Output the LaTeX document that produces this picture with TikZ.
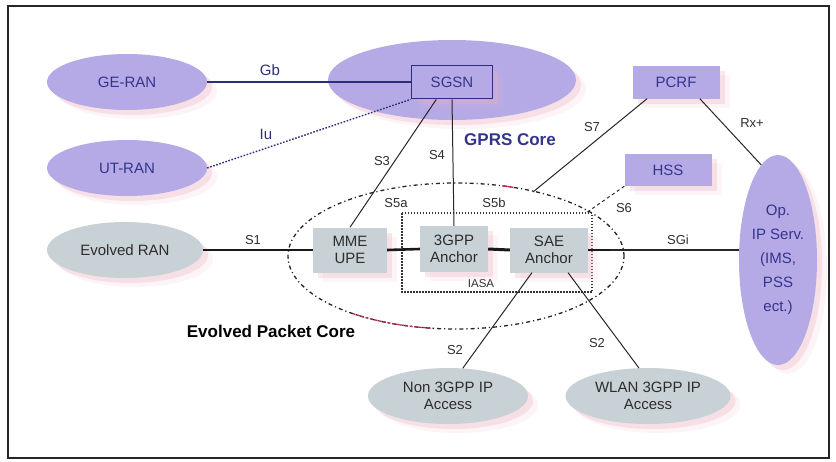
\documentclass[tikz,border=0pt]{standalone}
\usepackage{fontspec}
\setmainfont{Liberation Sans}
\usetikzlibrary{shapes.geometric}

\definecolor{lav}{RGB}{181,170,230}
\definecolor{grayn}{RGB}{200,209,213}
\definecolor{navy}{RGB}{45,45,125}
\definecolor{txtblue}{RGB}{52,52,140}
\definecolor{txtgray}{RGB}{45,45,45}
\definecolor{epcred}{RGB}{190,45,70}
\definecolor{shadowpink}{RGB}{232,178,192}

\newcommand\dgNodeFont{\fontsize{15}{17}\selectfont}
\newcommand\dgLabelFont{\fontsize{13}{15}\selectfont}
\newcommand\dgTitleFont{\fontsize{17}{20}\selectfont\bfseries}

\begin{document}
\begin{tikzpicture}[x=1pt,y=-1pt,
  softshadow/.style={
    preaction={fill=shadowpink,opacity=0.30,transform canvas={shift={(5pt,-5pt)}}},
    preaction={fill=shadowpink,opacity=0.15,transform canvas={shift={(10pt,-9pt)}}}},
  lavell/.style={ellipse,fill=lav,text=txtblue,inner sep=0pt,
    minimum width=160pt,minimum height=56pt,font=\dgNodeFont,align=center,softshadow},
  grayell/.style={ellipse,fill=grayn,text=txtgray,inner sep=0pt,
    minimum width=160pt,minimum height=56pt,font=\dgNodeFont,align=center,softshadow},
  lavbox/.style={rectangle,fill=lav,text=txtblue,inner sep=0pt,
    minimum width=87pt,minimum height=33pt,font=\dgNodeFont,softshadow},
  graybox/.style={rectangle,fill=grayn,text=txtgray,inner sep=0pt,
    minimum height=45pt,font=\dgNodeFont,align=center,softshadow},
  lbl/.style={text=txtgray,font=\dgLabelFont,inner sep=0pt},
  bluelbl/.style={text=navy,font=\dgNodeFont,inner sep=0pt},
  title/.style={font=\dgTitleFont,inner sep=0pt},
  thinline/.style={draw=black!85,line width=1pt},
  thickline/.style={draw=black!90,line width=2.6pt},
  epcline/.style={draw=black!85,line width=1.3pt,dash pattern=on 4pt off 3pt on 1.2pt off 3pt},
  iasaline/.style={draw=black!80,line width=1.2pt,dash pattern=on 1.5pt off 1.5pt},
]
\useasboundingbox (0,0) rectangle (836,461);
\draw[line width=2pt,black!85] (8,6) rectangle (829,458);

% GPRS core area with its SGSN
\node[ellipse,fill=lav,inner sep=0pt,minimum width=248pt,minimum height=80pt,softshadow] (gprs) at (452,80) {};
\node[lavbox,draw=navy,line width=1.8pt,minimum width=81pt] (sgsn) at (452,82) {SGSN};
\node[title,text=txtblue] (gprslbl) at (510,140) {GPRS Core};

% radio access networks
\node[lavell] (geran) at (127,82) {GE-RAN};
\node[lavell] (utran) at (127,168) {UT-RAN};
\node[grayell,minimum width=156pt] (eran) at (125,250) {Evolved RAN};

% policy and subscriber servers
\node[lavbox] (pcrf) at (676,82) {PCRF};
\node[lavbox,minimum height=32pt] (hss) at (668,170) {HSS};

% operator IP services
\node[lavell,minimum width=78pt,minimum height=210pt,font=\fontsize{15}{24}\selectfont] (opip) at (778,260)
  {Op.\\IP Serv.\\(IMS,\\PSS\\ect.)};

% evolved packet core boundary
\draw[epcline] (456,256) ellipse [x radius=168pt, y radius=73pt];
\draw[draw=epcred,line width=1.3pt,dash pattern=on 3pt off 1.5pt]
  (456,256) ++(-103.4,57.5) arc[start angle=-128,end angle=-98,x radius=168pt,y radius=73pt];
\draw[draw=epcred,line width=1.3pt] (456,256) ++(46.3,-70.2) arc[start angle=74,end angle=70,x radius=168pt,y radius=73pt];
\node[title] (epclbl) at (271,331) {Evolved Packet Core};

% inter access system anchor
\draw[iasaline] (402,213) rectangle (592,292);
\node[lbl,font=\fontsize{11.5}{13}\selectfont] (iasa) at (481,284) {IASA};

% core boxes
\node[graybox,minimum width=74pt] (mme) at (350,250) {MME\\UPE};
\node[graybox,minimum width=68pt,minimum height=46pt] (gpp) at (454,249) {3GPP\\Anchor};
\node[graybox,minimum width=78pt] (sae) at (549,250) {SAE\\Anchor};

% non-3GPP accesses
\node[grayell] (non) at (448,396) {Non 3GPP IP\\Access};
\node[grayell,minimum width=165pt] (wlan) at (648,396) {WLAN 3GPP IP\\Access};

% free ends of cut interfaces
\coordinate (s7end) at (533,192);
\coordinate (s6end) at (586,213);

% interfaces
\draw[draw=navy,line width=1.6pt] (geran.east) -- (sgsn.west);
\draw[draw=navy,line width=1.4pt,dash pattern=on 1.6pt off 1.6pt] (utran.east) -- (sgsn.south west);
\draw[thinline] (sgsn.228) -- (mme.north);
\draw[thinline] (sgsn.south) -- (gpp.north);
\draw[thinline] (pcrf.210) -- (s7end);
\draw[thinline] (pcrf.-35) -- (opip.100);
\draw[thinline,dash pattern=on 3pt off 3pt] (hss.south west) -- (s6end);
\draw[thickline,line width=2.2pt] (eran.east) -- (mme.west);
\draw[thickline] (mme.east) -- (gpp.west);
\draw[thickline,line width=3pt] (gpp.east) -- (sae.west);
\draw[thinline,line width=1.2pt] (sae.east) -- (sae.east -| opip.west);
\draw[thickline] (sae.east) -- ++(22,0);
\draw[thinline] (sae.233) -- (non.62);
\draw[thinline] (sae.-50) -- (wlan.108);

% interface names
\node[bluelbl] (gb) at (270,70) {Gb};
\node[bluelbl] (iu) at (266,134) {Iu};
\node[lbl] (s3) at (382,161) {S3};
\node[lbl] (s4) at (437,155) {S4};
\node[lbl] (s5a) at (396,203) {S5a};
\node[lbl] (s5b) at (494,203) {S5b};
\node[lbl] (s7) at (592,127) {S7};
\node[lbl] (rx) at (752,123) {Rx+};
\node[lbl] (s6) at (624,208) {S6};
\node[lbl] (sgi) at (678,240) {SGi};
\node[lbl] (s1) at (253,240) {S1};
\node[lbl] (s2a) at (455,350) {S2};
\node[lbl] (s2b) at (597,343) {S2};
\end{tikzpicture}
\end{document}
